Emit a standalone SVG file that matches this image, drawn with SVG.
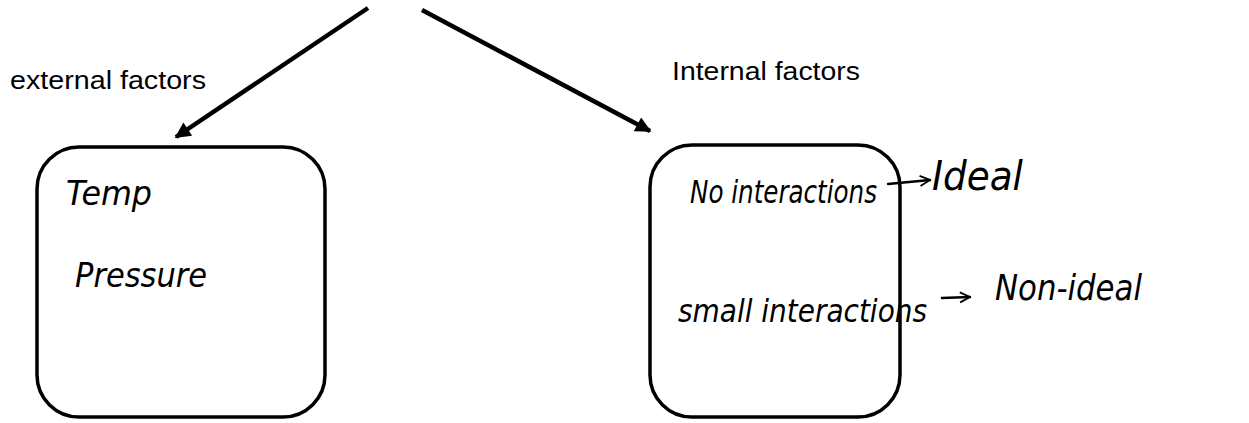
<svg xmlns="http://www.w3.org/2000/svg" width="1249" height="423" viewBox="0 0 1249 423">
<style>
.box{fill:none;stroke:#000;stroke-width:3.5}
.lbl{font-family:"Liberation Sans",Arial,sans-serif;font-size:26px;fill:#000}
.hw{font-family:"DejaVu Sans","Noto Sans",sans-serif;font-style:italic;fill:#000}
.conn{stroke:#000;stroke-width:4.5;fill:none}
.thin{stroke:#000;stroke-width:2.5;fill:none;stroke-linecap:round}
</style>
<defs>
<marker id="ah" viewBox="0 0 10 10" refX="9" refY="5" markerWidth="4.5" markerHeight="3.5" orient="auto" markerUnits="strokeWidth">
<path d="M0,0 L10,5 L0,10 z" fill="#000"/>
</marker>
<marker id="oh" viewBox="0 0 10 10" refX="9" refY="5" markerWidth="5" markerHeight="5" orient="auto" markerUnits="strokeWidth">
<path d="M1,1 L9,5 L1,9" fill="none" stroke="#000" stroke-width="1.5"/>
</marker>
</defs>
<rect width="1249" height="423" fill="#fff"/>
<g id="connectors">
<line class="conn" x1="368" y1="8" x2="176" y2="137" marker-end="url(#ah)"/>
<line class="conn" x1="422" y1="10" x2="650" y2="131" marker-end="url(#ah)"/>
<line class="thin" x1="888" y1="184" x2="930" y2="180" marker-end="url(#oh)"/>
<line class="thin" x1="942" y1="298" x2="970" y2="297" marker-end="url(#oh)"/>
</g>
<g id="label-external">
<text class="lbl" x="10" y="89" textLength="196" lengthAdjust="spacingAndGlyphs">external factors</text>
</g>
<g id="label-internal">
<text class="lbl" x="672" y="80" textLength="188" lengthAdjust="spacingAndGlyphs">Internal factors</text>
</g>
<g id="node-external">
<rect class="box" x="37" y="147" width="288" height="270" rx="42"/>
<text class="hw" x="66" y="205" font-size="33" textLength="86" lengthAdjust="spacingAndGlyphs">Temp</text>
<text class="hw" x="75" y="287" font-size="33" textLength="132" lengthAdjust="spacingAndGlyphs">Pressure</text>
</g>
<g id="node-internal">
<rect class="box" x="650" y="145" width="250" height="272" rx="42"/>
<text class="hw" x="690" y="203" font-size="32" textLength="187" lengthAdjust="spacingAndGlyphs">No interactions</text>
<text class="hw" x="678" y="322" font-size="32" textLength="249" lengthAdjust="spacingAndGlyphs">small interactions</text>
</g>
<g id="node-ideal">
<text class="hw" x="932" y="190" font-size="40" textLength="91" lengthAdjust="spacingAndGlyphs">Ideal</text>
</g>
<g id="node-nonideal">
<text class="hw" x="995" y="300" font-size="36" textLength="147" lengthAdjust="spacingAndGlyphs">Non-ideal</text>
</g>
</svg>
